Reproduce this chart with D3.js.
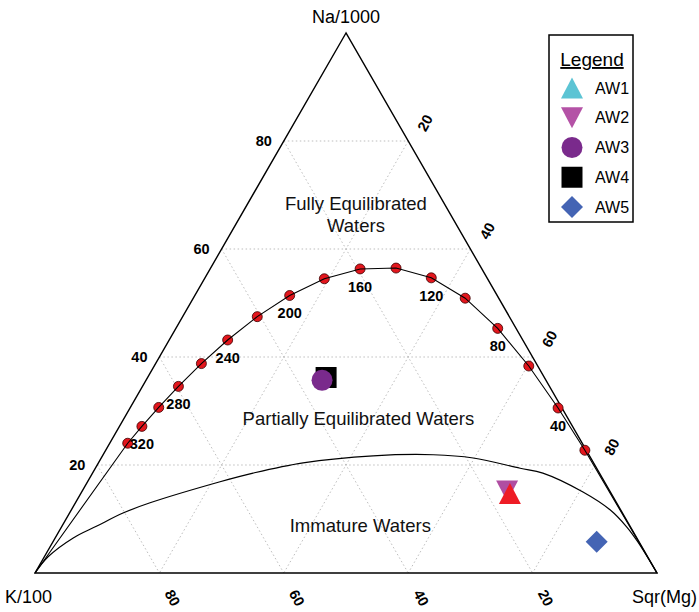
<!DOCTYPE html>
<html><head><meta charset="utf-8">
<script src="https://cdn.jsdelivr.net/npm/d3@7"></script>
<style>body{margin:0;background:#fff} svg{display:block} text{font-family:"Liberation Sans",Arial,sans-serif}</style>
</head><body><svg id="c" width="699" height="612"></svg>
<script>
// ---- data (ternary %: Na/1000, Sqr(Mg); K/100 = 100 - Na - Mg) ----
const axisNames = ["Na/1000", "K/100", "Sqr(Mg)"];
const gridTicks = [20, 40, 60, 80];
const eqTemps = [20, 40, 60, 80, 100, 120, 140, 160, 180, 200, 220, 240, 260, 280, 300, 320, 340];
const eqNa = [22.73, 30.56, 38.33, 45.30, 50.89, 54.66, 56.47, 56.31, 54.49, 51.39, 47.47, 43.15, 38.78, 34.56, 30.66, 27.15, 24.03];
const eqMg = [77.04, 68.82, 60.22, 51.74, 43.72, 36.38, 29.81, 24.11, 19.27, 15.25, 12.00, 9.40, 7.36, 5.78, 4.56, 3.61, 2.89];
const eqLabelTemps = [40, 80, 120, 160, 200, 240, 280, 320];
const immNa = [0, 3.0, 6.5, 8.7, 11.1, 13.0, 16.9, 18.5, 20.4, 21.7, 21.9, 21.3, 19.4, 18.5, 15.0, 11.7, 8.5, 5.7, 0];
const immMg = [0, 0.6, 2.9, 5.6, 8.6, 12.0, 21.3, 25.8, 32.9, 43.5, 53.1, 59.8, 68.3, 72.4, 80.6, 86.6, 90.9, 94.1, 100];
const sampleNames = ["AW1", "AW2", "AW3", "AW4", "AW5"];
const sampleNa = [14.7, 15.2, 35.7, 36.2, 5.8];
const sampleMg = [69.0, 68.3, 28.3, 28.7, 87.4];
const regionText = [["Fully Equilibrated", "Waters"], ["Partially Equilibrated Waters"], ["Immature Waters"]];
const regionNa = [67.2, 27.4, 7.6];
const regionMg = [18.0, 38.3, 48.5];

// ---- styles ----
const sampleShapes = ["triUp", "triDown", "circle", "square", "diamond"];
const plotColors = ["#ee1c25", "#b04ea2", "#7a2a8c", "#000000", "#4464b4"];
const legendColors = ["#5cc4d4", "#b452a6", "#7a2a8c", "#000000", "#4464b4"];

const svg = d3.select("#c");
const xS = d3.scaleLinear().domain([0, 1]).range([35, 657]);
const yS = d3.scaleLinear().domain([0, 1]).range([573, 33]);
// na, mg in %
const px = (na, mg) => xS(mg / 100 + na / 200);
const py = (na) => yS(na / 100);
const pt = (na, mg) => [px(na, mg), py(na)];

// grid
const gridG = svg.append("g").attr("stroke", "#b5b5b5").attr("stroke-width", 0.9).attr("stroke-dasharray", "1.5,2.5").attr("fill", "none");
const segs = [];
gridTicks.forEach(v => {
  segs.push([pt(v, 0), pt(v, 100 - v)]);            // Na const
  segs.push([pt(100 - v, 0), pt(0, 100 - v)]);      // K const
  segs.push([pt(100 - v, v), pt(0, v)]);            // Mg const
});
gridG.selectAll("line").data(segs).join("line")
  .attr("x1", d => d[0][0]).attr("y1", d => d[0][1]).attr("x2", d => d[1][0]).attr("y2", d => d[1][1]);

// triangle
svg.append("path").attr("d", d3.line()([pt(100, 0), pt(0, 0), pt(0, 100)]) + "Z")
  .attr("fill", "none").attr("stroke", "#000").attr("stroke-width", 1.4);

// axis names
svg.append("text").attr("x", px(100, 0)).attr("y", 23).attr("text-anchor", "middle").attr("font-size", 18).text(axisNames[0]);
svg.append("text").attr("x", 5).attr("y", 603).attr("text-anchor", "start").attr("font-size", 18).text(axisNames[1]);
svg.append("text").attr("x", 697).attr("y", 603).attr("text-anchor", "end").attr("font-size", 18).text(axisNames[2]);

// tick labels
const tickG = svg.append("g").attr("font-size", 14.5).attr("font-weight", "bold").attr("text-anchor", "middle");
gridTicks.forEach(v => {
  tickG.append("text").attr("x", px(v, 0) - 20).attr("y", py(v) + 5).text(v);
  const rx = px(100 - v, v) + 17, ry = py(100 - v) - 18;
  tickG.append("text").attr("transform", `translate(${rx},${ry}) rotate(-62)`).attr("y", 5).text(v);
  const bx = px(0, 100 - v) + 13, by = py(0) + 25;
  tickG.append("text").attr("transform", `translate(${bx},${by}) rotate(62)`).attr("y", 5).text(v);
});

// immature curve
const immPts = immNa.map((n, i) => pt(n, immMg[i]));
svg.append("path").attr("d", d3.line().curve(d3.curveCatmullRom)(immPts))
  .attr("fill", "none").attr("stroke", "#000").attr("stroke-width", 1.2);

// full equilibrium curve
const eqPts = eqNa.map((n, i) => pt(n, eqMg[i]));
svg.append("g").selectAll("circle").data(eqPts).join("circle")
  .attr("cx", d => d[0]).attr("cy", d => d[1]).attr("r", 5)
  .attr("fill", "#e3161d").attr("stroke", "#3a0000").attr("stroke-width", 0.8);
const lineData = [pt(0, 100)].concat(eqPts).concat([pt(0, 0)]);
svg.append("path").attr("d", d3.line()(lineData))
  .attr("fill", "none").attr("stroke", "#000").attr("stroke-width", 1.1);
const eqLblG = svg.append("g").attr("font-size", 14.5).attr("font-weight", "bold").attr("text-anchor", "middle");
eqLabelTemps.forEach(t => {
  const i = eqTemps.indexOf(t);
  eqLblG.append("text").attr("x", eqPts[i][0]).attr("y", eqPts[i][1] + 23).text(t);
});

// region labels
const regG = svg.append("g").attr("font-size", 18.5).attr("text-anchor", "middle").attr("fill", "#111");
regionText.forEach((lines, i) => {
  lines.forEach((s, j) => {
    regG.append("text").attr("x", px(regionNa[i], regionMg[i])).attr("y", py(regionNa[i]) + j * 22).text(s);
  });
});

// symbols
const shapePath = {
  triUp: "M0,-10.5L11,10.5L-11,10.5Z",
  triDown: "M-11,-10.5L11,-10.5L0,10.5Z",
  circle: "M10.5,0A10.5,10.5,0,1,1,-10.5,0A10.5,10.5,0,1,1,10.5,0Z",
  square: "M-10.5,-10.5H10.5V10.5H-10.5Z",
  diamond: "M0,-11L11,0L0,11L-11,0Z"
};
const order = d3.range(sampleNames.length).reverse();
svg.append("g").selectAll("path").data(order).join("path")
  .attr("transform", i => `translate(${px(sampleNa[i], sampleMg[i])},${py(sampleNa[i])})`)
  .attr("d", i => shapePath[sampleShapes[i]])
  .attr("fill", i => plotColors[i]);

// legend
const lg = svg.append("g");
lg.append("rect").attr("x", 549).attr("y", 35).attr("width", 84).attr("height", 187)
  .attr("fill", "#fff").attr("stroke", "#000").attr("stroke-width", 1.5);
lg.append("text").attr("x", 592).attr("y", 66).attr("text-anchor", "middle").attr("font-size", 19)
  .attr("text-decoration", "underline").text("Legend");
const ly = d3.scalePoint().domain(sampleNames).range([88, 207]);
sampleNames.forEach((n, i) => {
  lg.append("path").attr("transform", `translate(572,${ly(n)})`).attr("d", shapePath[sampleShapes[i]]).attr("fill", legendColors[i]);
  lg.append("text").attr("x", 595).attr("y", ly(n) + 5.5).attr("font-size", 16).text(n);
});
</script></body></html>
